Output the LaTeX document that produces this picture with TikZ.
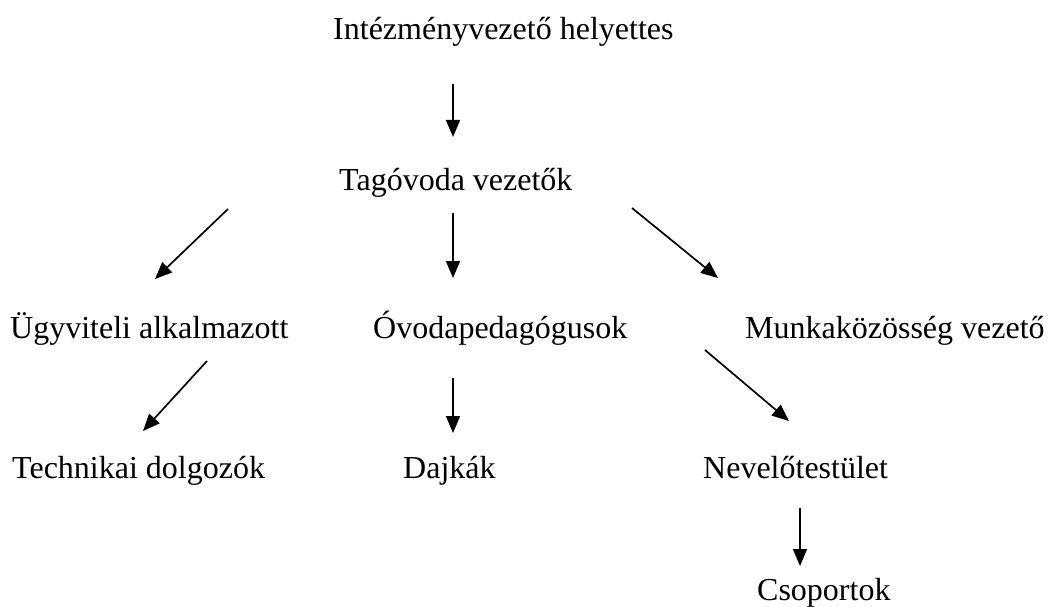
\documentclass[tikz,border=0pt]{standalone}
\usepackage{fontspec}
\setmainfont{Liberation Serif}
\usetikzlibrary{arrows.meta}
\begin{document}
\begin{tikzpicture}[x=1pt,y=-1pt,
  lbl/.style={anchor=base west, inner sep=0pt, font=\fontsize{32}{38}\selectfont},
  arr/.style={line width=1.7pt, -{Triangle[length=17pt,width=14pt]}}]
\useasboundingbox (0,0) rectangle (1050,607);
\node[lbl] (ivh)  at (333,40)  {Intézményvezető helyettes};
\node[lbl] (tag)  at (339,190) {Tagóvoda vezetők};
\node[lbl] (ugy)  at (10,338)  {Ügyviteli alkalmazott};
\node[lbl] (ovo)  at (373,338) {Óvodapedagógusok};
\node[lbl] (mkv)  at (745,338) {Munkaközösség vezető};
\node[lbl] (tech) at (12,478)  {Technikai dolgozók};
\node[lbl] (dajk) at (403,478) {Dajkák};
\node[lbl] (nev)  at (703,478) {Nevelőtestület};
\node[lbl] (csop) at (757,600) {Csoportok};
% connector end points
\coordinate (a1s) at (453,84);  \coordinate (a1e) at (453,137);
\coordinate (a2s) at (228,209); \coordinate (a2e) at (155,279);
\coordinate (a3s) at (453,213); \coordinate (a3e) at (453,278);
\coordinate (a4s) at (632,208); \coordinate (a4e) at (718,278);
\coordinate (a5s) at (207,361); \coordinate (a5e) at (143,431);
\coordinate (a6s) at (453,378); \coordinate (a6e) at (453,433);
\coordinate (a7s) at (705,350); \coordinate (a7e) at (789,421);
\coordinate (a8s) at (800,508); \coordinate (a8e) at (800,566);
\draw[arr] (a1s) -- (a1e);
\draw[arr] (a2s) -- (a2e);
\draw[arr] (a3s) -- (a3e);
\draw[arr] (a4s) -- (a4e);
\draw[arr] (a5s) -- (a5e);
\draw[arr] (a6s) -- (a6e);
\draw[arr] (a7s) -- (a7e);
\draw[arr] (a8s) -- (a8e);
\end{tikzpicture}
\end{document}
